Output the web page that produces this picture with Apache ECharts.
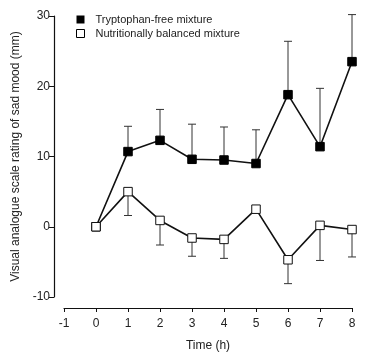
<!DOCTYPE html>
<html>
<head>
<meta charset="utf-8">
<script src="https://cdn.jsdelivr.net/npm/echarts@6/dist/echarts.min.js"></script>
<style>
  html, body { margin: 0; padding: 0; background: #fff; }
  #main { width: 370px; height: 354px; }
</style>
</head>
<body>
<div id="main"></div>
<script>
var hours = [0, 1, 2, 3, 4, 5, 6, 7, 8];
// tryptophan-free mixture (mean and upper end of error bar)
var tfMean = [0, 10.7, 12.3, 9.6, 9.5, 9.0, 18.8, 11.4, 23.5];
var tfUpper = [null, 14.3, 16.7, 14.6, 14.2, 13.8, 26.4, 19.7, 30.2];
// nutritionally balanced mixture (mean and lower end of error bar)
var nbMean = [0, 5.0, 0.9, -1.6, -1.8, 2.5, -4.7, 0.2, -0.4];
var nbLower = [null, 1.6, -2.6, -4.2, -4.5, null, -8.1, -4.8, -4.3];
var seriesNames = ['Tryptophan-free mixture', 'Nutritionally balanced mixture'];

function pairs(xs, ys) {
  var out = [];
  for (var i = 0; i < xs.length; i++) out.push([xs[i], ys[i]]);
  return out;
}
function errPairs(xs, mean, ends) {
  var out = [];
  for (var i = 0; i < xs.length; i++) {
    if (ends[i] !== null) out.push([xs[i], mean[i], ends[i]]);
  }
  return out;
}

function errorBar(params, api) {
  var x = api.value(0);
  var p0 = api.coord([x, api.value(1)]);
  var p1 = api.coord([x, api.value(2)]);
  var half = 4;
  var st = { stroke: '#333', lineWidth: 1 };
  return {
    type: 'group',
    children: [
      { type: 'line', shape: { x1: p0[0], y1: p0[1], x2: p1[0], y2: p1[1] }, style: st },
      { type: 'line', shape: { x1: p1[0] - half, y1: p1[1], x2: p1[0] + half, y2: p1[1] }, style: st }
    ]
  };
}

var chart = echarts.init(document.getElementById('main'));
var font = 'Liberation Sans, Arial, sans-serif';
chart.setOption({
  animation: false,
  backgroundColor: '#fff',
  textStyle: { fontFamily: font },
  grid: { left: 64, right: 18, top: 16, bottom: 57, outerBoundsMode: 'none', containLabel: false },
  legend: {
    left: 76, top: 14,
    padding: 0,
    orient: 'vertical',
    itemGap: 3,
    itemWidth: 8, itemHeight: 8,
    textStyle: { fontSize: 11, color: '#222', fontFamily: font, padding: [0, 0, 0, 6] },
    data: [
      { name: seriesNames[0], icon: 'rect', itemStyle: { color: '#000', borderWidth: 0 } },
      { name: seriesNames[1], icon: 'rect', itemStyle: { color: '#fff', borderColor: '#000', borderWidth: 1 } }
    ]
  },
  xAxis: {
    type: 'value',
    min: -1, max: 8, interval: 1,
    offset: 11,
    name: 'Time (h)',
    nameLocation: 'middle',
    nameGap: 32,
    nameTextStyle: { fontSize: 12, color: '#222' },
    axisLine: { onZero: false, lineStyle: { color: '#111', width: 1.2 } },
    axisTick: { length: 4, lineStyle: { color: '#111' } },
    axisLabel: { fontSize: 12, color: '#222', margin: 10 },
    splitLine: { show: false }
  },
  yAxis: {
    type: 'value',
    position: 'left',
    min: -10, max: 30, interval: 10,
    offset: 10,
    name: 'Visual analogue scale rating of sad mood (mm)',
    nameLocation: 'middle',
    nameGap: 31,
    nameTextStyle: { fontSize: 12, color: '#222' },
    axisLine: { show: true, onZero: false, lineStyle: { color: '#111', width: 1.2 } },
    axisTick: { show: true, length: 5, lineStyle: { color: '#111' } },
    axisLabel: { fontSize: 12, color: '#222', margin: 4 },
    splitLine: { show: false }
  },
  series: [
    {
      type: 'custom',
      name: 'tfErr',
      renderItem: errorBar,
      data: errPairs(hours, tfMean, tfUpper),
      z: 1
    },
    {
      type: 'custom',
      name: 'nbErr',
      renderItem: errorBar,
      data: errPairs(hours, nbMean, nbLower),
      z: 1
    },
    {
      type: 'line',
      name: seriesNames[0],
      data: pairs(hours, tfMean),
      symbol: 'rect',
      symbolSize: 8.5,
      lineStyle: { color: '#111', width: 1.6 },
      itemStyle: { color: '#000', borderColor: '#000', borderWidth: 1 },
      z: 3
    },
    {
      type: 'line',
      name: seriesNames[1],
      data: pairs(hours, nbMean),
      symbol: 'rect',
      symbolSize: 8.5,
      lineStyle: { color: '#111', width: 1.6 },
      itemStyle: { color: '#fff', borderColor: '#111', borderWidth: 1 },
      z: 4
    }
  ]
});
</script>
</body>
</html>
